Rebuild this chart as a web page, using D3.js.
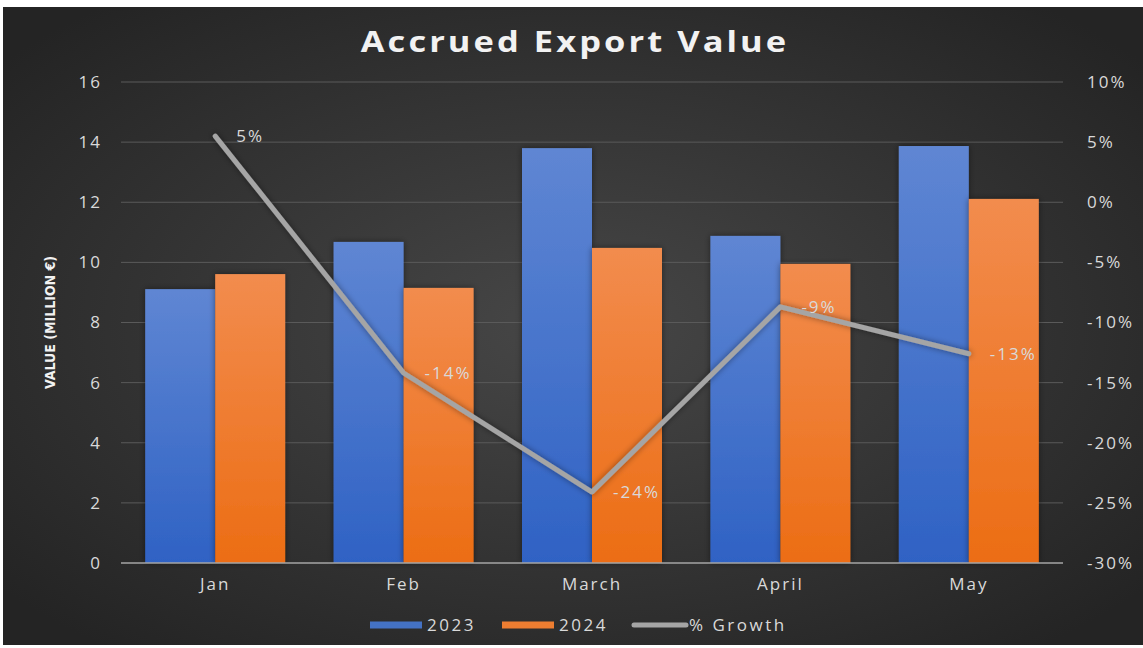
<!DOCTYPE html>
<html>
<head>
<meta charset="utf-8">
<script src="https://cdn.jsdelivr.net/npm/d3@7"></script>
<style>
  html, body { margin: 0; padding: 0; background: #ffffff; }
  svg { display: block; }
</style>
</head>
<body>
<svg id="chart"></svg>
<script>
// data
var months = ["Jan", "Feb", "March", "April", "May"];
var value2023 = [9.11, 10.68, 13.80, 10.88, 13.87];
var value2024 = [9.61, 9.15, 10.48, 9.95, 12.11];
var growth = [5.5, -14.2, -24.1, -8.7, -12.6];
var growthLabels = ["5%", "-14%", "-24%", "-9%", "-13%"];
var leftTicks = [0, 2, 4, 6, 8, 10, 12, 14, 16];
var rightTicks = [-30, -25, -20, -15, -10, -5, 0, 5, 10];

var W = 1143, H = 648;
var frame = { x: 3, y: 7, w: 1140, h: 638 };
var plot = { left: 121, right: 1063, top: 82, bottom: 563 };
var font = "'Open Sans', 'Noto Sans', sans-serif";

var svg = d3.select("#chart").attr("width", W).attr("height", H);
var defs = svg.append("defs");

// background gradient
var bg = defs.append("radialGradient").attr("id", "bg")
  .attr("cx", "50%").attr("cy", "50%").attr("r", "65%");
bg.append("stop").attr("offset", "0%").attr("stop-color", "#474747");
bg.append("stop").attr("offset", "100%").attr("stop-color", "#242424");

function barGrad(id, top, bottom) {
  var g = defs.append("linearGradient").attr("id", id)
    .attr("x1", 0).attr("y1", 0).attr("x2", 0).attr("y2", 1);
  g.append("stop").attr("offset", "0%").attr("stop-color", top);
  g.append("stop").attr("offset", "100%").attr("stop-color", bottom);
}
barGrad("blue", "#5f86d3", "#2f62c4");
barGrad("orange", "#f28c4e", "#ec6d14");

var shadow = defs.append("filter").attr("id", "shadow")
  .attr("x", "-20%").attr("y", "-20%").attr("width", "140%").attr("height", "140%");
shadow.append("feDropShadow").attr("dx", 0).attr("dy", 0).attr("stdDeviation", 3)
  .attr("flood-color", "#000").attr("flood-opacity", 0.45);

svg.append("rect")
  .attr("x", frame.x).attr("y", frame.y)
  .attr("width", frame.w).attr("height", frame.h)
  .attr("fill", "url(#bg)");

// scales
var x = d3.scaleBand().domain(months).range([plot.left, plot.right]);
var xSub = d3.scaleBand().domain(["2023", "2024"])
  .range([0, x.bandwidth()]).paddingOuter(0.3457);
var y = d3.scaleLinear().domain([0, 16]).range([plot.bottom, plot.top]);
var y2 = d3.scaleLinear().domain([-30, 10]).range([plot.bottom, plot.top]);

function labelStyle(sel, size, spacing) {
  sel.style("font-family", font).style("font-size", size + "px")
    .style("letter-spacing", spacing + "px").attr("fill", "#d9d9d9");
}

// gridlines
svg.append("g")
  .selectAll("line").data(leftTicks.filter(d => d > 0)).enter().append("line")
    .attr("x1", plot.left).attr("x2", plot.right)
    .attr("y1", d => y(d)).attr("y2", d => y(d))
    .attr("stroke", "#5a5a5a").attr("stroke-width", 1);

// left axis
var yAxis = svg.append("g")
  .attr("transform", "translate(" + plot.left + ",0)")
  .call(d3.axisLeft(y).tickValues(leftTicks).tickSize(0).tickPadding(19));
yAxis.select(".domain").remove();
labelStyle(yAxis.selectAll("text"), 17, 2);

// right axis
var y2Axis = svg.append("g")
  .attr("transform", "translate(" + plot.right + ",0)")
  .call(d3.axisRight(y2).tickValues(rightTicks).tickSize(0).tickPadding(24)
    .tickFormat(d => d + "%"));
y2Axis.select(".domain").remove();
labelStyle(y2Axis.selectAll("text"), 17, 2);

// bars
var series = [
  { key: "2023", values: value2023, fill: "url(#blue)" },
  { key: "2024", values: value2024, fill: "url(#orange)" }
];
series.forEach(function (s) {
  svg.append("g").attr("filter", "url(#shadow)")
    .selectAll("rect").data(s.values).enter().append("rect")
      .attr("x", (d, i) => x(months[i]) + xSub(s.key))
      .attr("y", d => y(d))
      .attr("width", xSub.bandwidth())
      .attr("height", d => y(0) - y(d))
      .attr("fill", s.fill);
});

// baseline
svg.append("line")
  .attr("x1", plot.left).attr("x2", plot.right)
  .attr("y1", y(0)).attr("y2", y(0))
  .attr("stroke", "#a6a6a6").attr("stroke-width", 1.5);

// x axis labels
var xAxis = svg.append("g")
  .attr("transform", "translate(0," + plot.bottom + ")")
  .call(d3.axisBottom(x).tickSize(0).tickPadding(15));
xAxis.select(".domain").remove();
labelStyle(xAxis.selectAll("text"), 17, 2);

// growth line
var line = d3.line()
  .x((d, i) => x(months[i]) + x.bandwidth() / 2)
  .y(d => y2(d));
svg.append("path")
  .datum(growth)
  .attr("d", line)
  .attr("fill", "none")
  .attr("stroke", "#a5a5a5")
  .attr("stroke-width", 5)
  .attr("stroke-linecap", "round")
  .attr("stroke-linejoin", "round")
  .attr("filter", "url(#shadow)");

// growth labels
var growthLabelsG = svg.append("g");
growthLabelsG.selectAll("text").data(growth).enter().append("text")
    .attr("x", (d, i) => x(months[i]) + x.bandwidth() / 2 + 21)
    .attr("y", d => y2(d))
    .attr("dy", "0.35em")
    .text((d, i) => growthLabels[i]);
labelStyle(growthLabelsG.selectAll("text"), 17, 2);

// title (wide lettering, stretched horizontally)
svg.append("text")
  .attr("transform", "translate(575,52) scale(1.23,1)")
  .attr("text-anchor", "middle")
  .style("font-family", font).style("font-size", "28px")
  .style("font-weight", "bold").style("letter-spacing", "2.5px")
  .attr("fill", "#f2f2f2")
  .text("Accrued Export Value");

// y axis title
svg.append("text")
  .attr("transform", "translate(55," + ((plot.top + plot.bottom) / 2) + ") rotate(-90)")
  .attr("text-anchor", "middle")
  .style("font-family", "'Liberation Sans Narrow', 'DejaVu Sans Condensed', sans-serif")
  .style("font-stretch", "condensed")
  .style("font-size", "14px").style("font-weight", "bold")
  .attr("fill", "#f2f2f2")
  .text("VALUE (MILLION €)");

// legend
var legend = svg.append("g").attr("transform", "translate(0,625)");
var legendItems = [
  { label: "2023", type: "rect", color: "#4472c4", x: 370 },
  { label: "2024", type: "rect", color: "#ed7d31", x: 502 },
  { label: "% Growth", type: "line", color: "#a5a5a5", x: 634 }
];
legendItems.forEach(function (it) {
  if (it.type === "rect") {
    legend.append("rect").attr("x", it.x).attr("y", -3.5)
      .attr("width", 52).attr("height", 7).attr("fill", it.color);
  } else {
    legend.append("line").attr("x1", it.x).attr("x2", it.x + 52)
      .attr("y1", 0).attr("y2", 0)
      .attr("stroke", it.color).attr("stroke-width", 5)
      .attr("stroke-linecap", "round");
  }
  var t = legend.append("text")
    .attr("x", it.x + (it.type === "rect" ? 57 : 55)).attr("y", 0).attr("dy", "0.35em")
    .text(it.label);
  labelStyle(t, 17, 2.5);
});
</script>
</body>
</html>
